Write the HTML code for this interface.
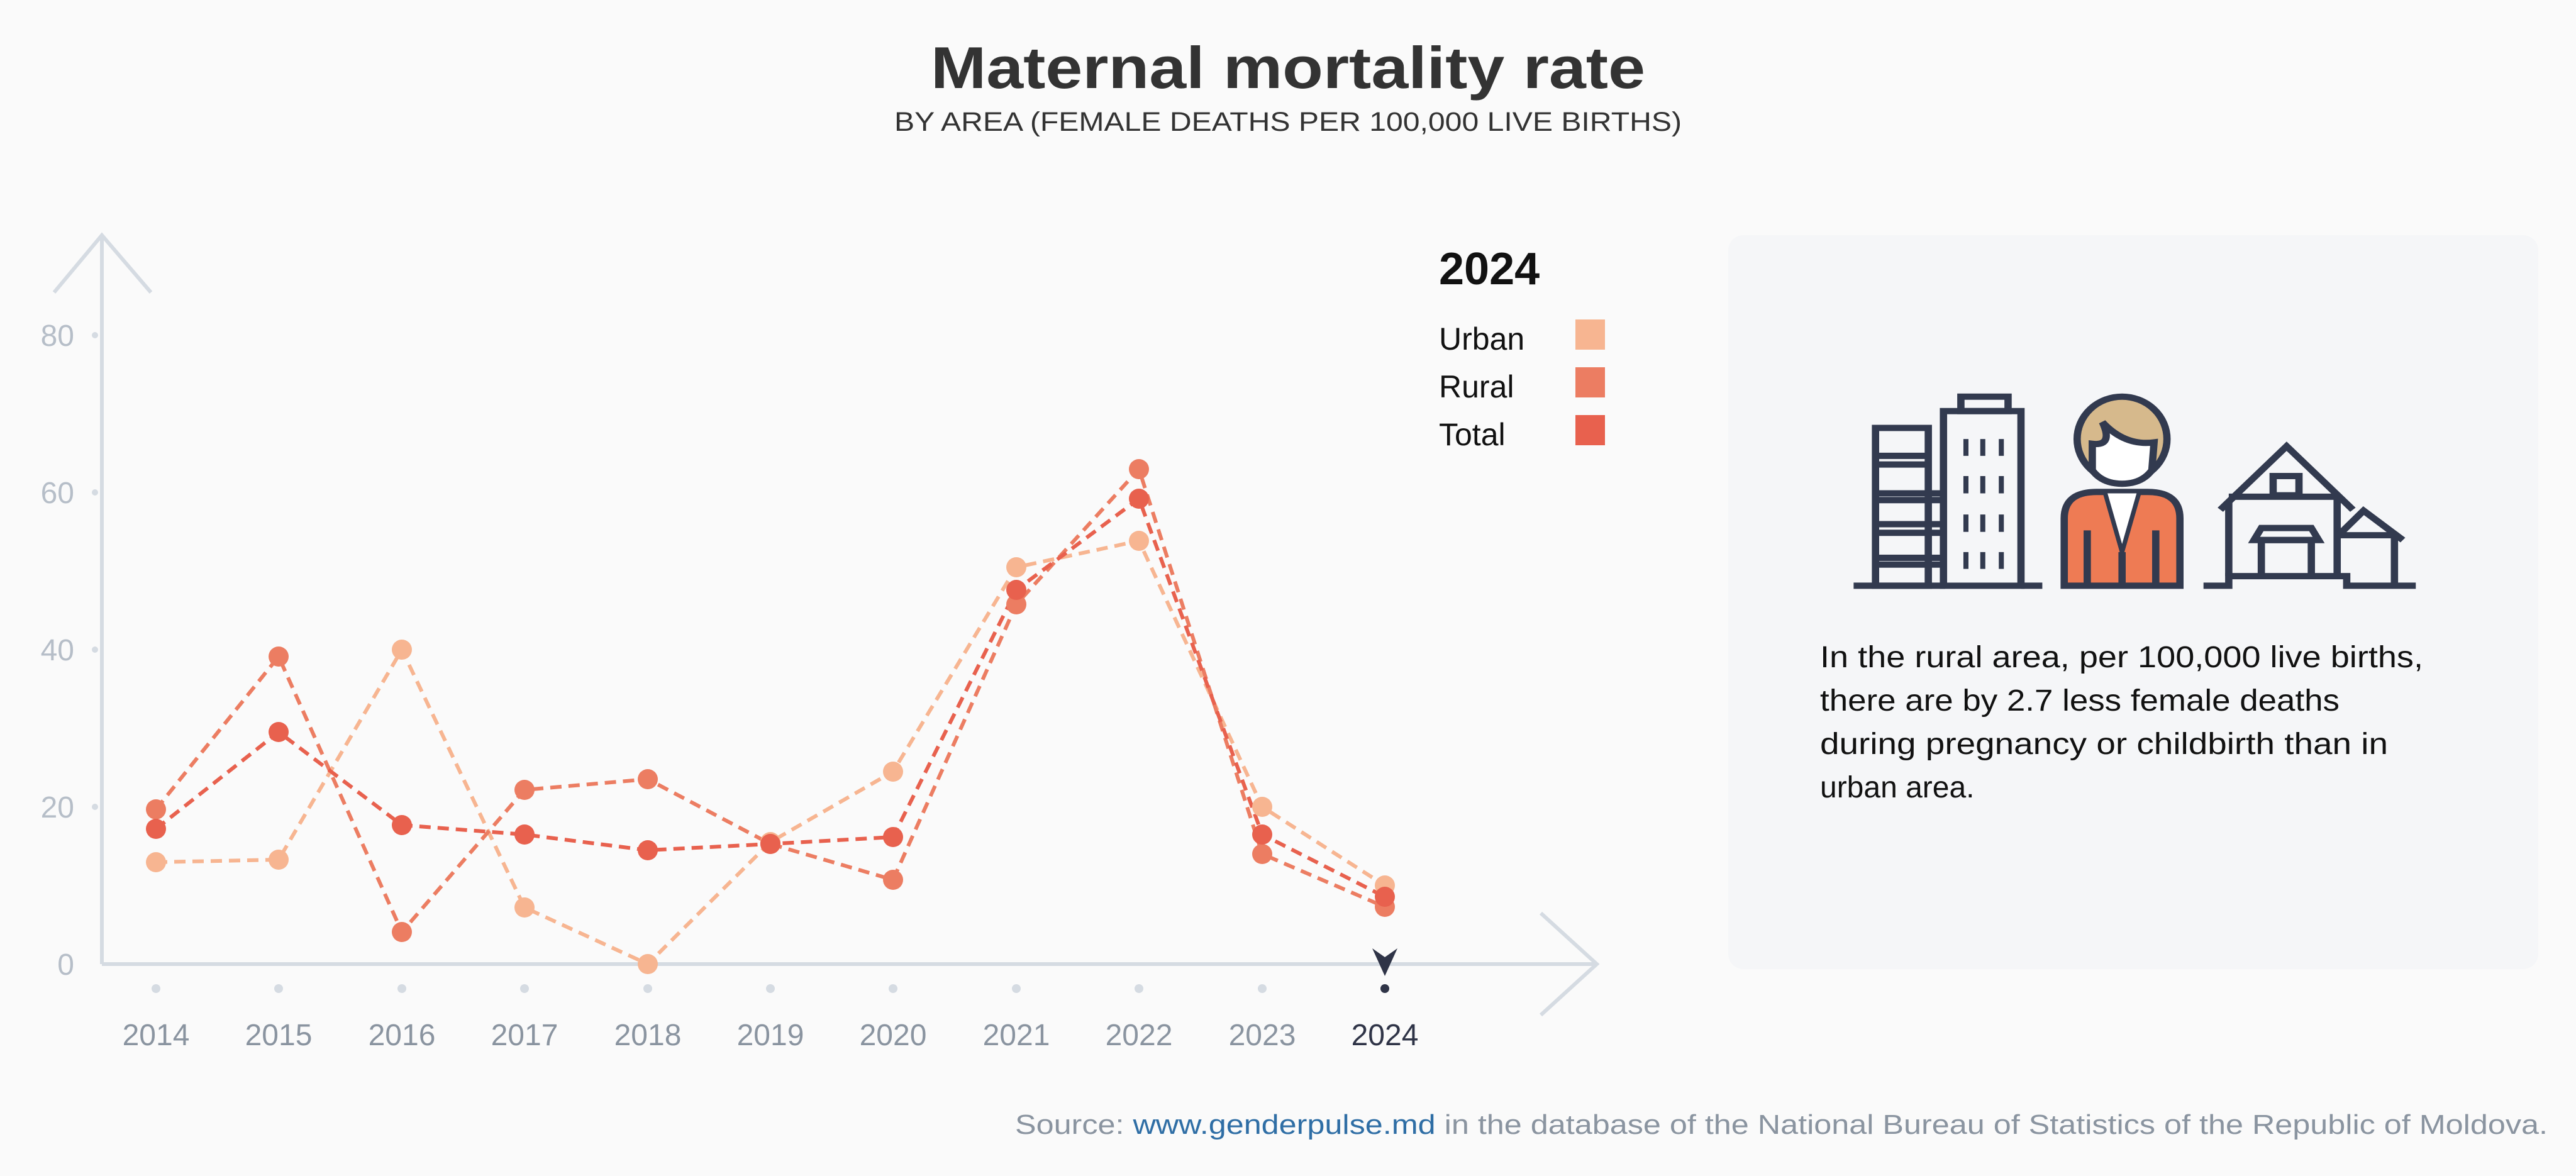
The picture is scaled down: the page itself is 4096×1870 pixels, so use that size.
<!DOCTYPE html>
<html><head><meta charset="utf-8"><style>
html,body{margin:0;padding:0;background:#fafafa;}
svg{display:block;font-family:"Liberation Sans",sans-serif;}
</style></head><body>
<svg width="4096" height="1870" viewBox="0 0 4096 1870" xmlns="http://www.w3.org/2000/svg">
<rect width="4096" height="1870" fill="#fafafa"/>
<text x="2048" y="140" text-anchor="middle" font-size="94" font-weight="bold" fill="#333" textLength="1136" lengthAdjust="spacingAndGlyphs">Maternal mortality rate</text>
<text x="2048" y="208" text-anchor="middle" font-size="43" fill="#333" textLength="1252" lengthAdjust="spacingAndGlyphs">BY AREA (FEMALE DEATHS PER 100,000 LIVE BIRTHS)</text>

<!-- axes -->
<g stroke="#d5dbe2" stroke-width="6" fill="none">
<line x1="162" y1="374" x2="162" y2="1533"/>
<polyline points="86,465 162,374 240,465"/>
<line x1="162" y1="1533" x2="2539" y2="1533"/>
<polyline points="2450,1452 2539,1533 2450,1614"/>
</g>
<g font-size="48" fill="#b6bec8" text-anchor="end">
<text x="118" y="550">80</text><text x="118" y="800">60</text><text x="118" y="1050">40</text><text x="118" y="1300">20</text><text x="118" y="1550">0</text>
</g>
<g fill="#d5dbe2"><circle cx="151" cy="533" r="5"/><circle cx="151" cy="783" r="5"/><circle cx="151" cy="1033" r="5"/><circle cx="151" cy="1283" r="5"/></g>
<g fill="#d5dbe2">
<circle cx="248" cy="1572" r="7"/><circle cx="443" cy="1572" r="7"/><circle cx="639" cy="1572" r="7"/><circle cx="834" cy="1572" r="7"/><circle cx="1030" cy="1572" r="7"/><circle cx="1225" cy="1572" r="7"/><circle cx="1420" cy="1572" r="7"/><circle cx="1616" cy="1572" r="7"/><circle cx="1811" cy="1572" r="7"/><circle cx="2007" cy="1572" r="7"/>
</g>
<circle cx="2202" cy="1572" r="7" fill="#2f3447"/>
<path d="M2182,1508 L2202,1552 L2222,1508 L2202,1522 Z" fill="#2f3447"/>
<g font-size="48" fill="#8a94a0" text-anchor="middle">
<text x="248" y="1662">2014</text><text x="443" y="1662">2015</text><text x="639" y="1662">2016</text><text x="834" y="1662">2017</text><text x="1030" y="1662">2018</text><text x="1225" y="1662">2019</text><text x="1420" y="1662">2020</text><text x="1616" y="1662">2021</text><text x="1811" y="1662">2022</text><text x="2007" y="1662">2023</text>
<text x="2202" y="1662" fill="#2f3447">2024</text>
</g>

<!-- series: y = 1533 - 12.5*v -->
<g fill="none" stroke-width="6" stroke-dasharray="18,11">
<polyline stroke="#f7b591" points="248,1371 443,1367 639,1033 834,1443 1030,1533 1225,1339 1420,1227 1616,902 1811,860 2007,1283 2202,1408"/>
<polyline stroke="#ec7d62" points="248,1287 443,1044 639,1482 834,1256 1030,1239 1225,1342 1420,1399 1616,961 1811,746 2007,1358 2202,1442"/>
<polyline stroke="#e8614e" points="248,1318 443,1164 639,1312 834,1327 1030,1352 1225,1342 1420,1331 1616,938 1811,793 2007,1327 2202,1426"/>
</g>
<g fill="#f7b591"><circle cx="248" cy="1371" r="16"/><circle cx="443" cy="1367" r="16"/><circle cx="639" cy="1033" r="16"/><circle cx="834" cy="1443" r="16"/><circle cx="1030" cy="1533" r="16"/><circle cx="1225" cy="1339" r="16"/><circle cx="1420" cy="1227" r="16"/><circle cx="1616" cy="902" r="16"/><circle cx="1811" cy="860" r="16"/><circle cx="2007" cy="1283" r="16"/><circle cx="2202" cy="1408" r="16"/></g>
<g fill="#ec7d62"><circle cx="248" cy="1287" r="16"/><circle cx="443" cy="1044" r="16"/><circle cx="639" cy="1482" r="16"/><circle cx="834" cy="1256" r="16"/><circle cx="1030" cy="1239" r="16"/><circle cx="1225" cy="1342" r="16"/><circle cx="1420" cy="1399" r="16"/><circle cx="1616" cy="961" r="16"/><circle cx="1811" cy="746" r="16"/><circle cx="2007" cy="1358" r="16"/><circle cx="2202" cy="1442" r="16"/></g>
<g fill="#e8614e"><circle cx="248" cy="1318" r="16"/><circle cx="443" cy="1164" r="16"/><circle cx="639" cy="1312" r="16"/><circle cx="834" cy="1327" r="16"/><circle cx="1030" cy="1352" r="16"/><circle cx="1225" cy="1342" r="16"/><circle cx="1420" cy="1331" r="16"/><circle cx="1616" cy="938" r="16"/><circle cx="1811" cy="793" r="16"/><circle cx="2007" cy="1327" r="16"/><circle cx="2202" cy="1426" r="16"/></g>

<!-- legend -->
<text x="2288" y="452" font-size="72" font-weight="bold" fill="#111">2024</text>
<g font-size="50" fill="#111">
<text x="2288" y="556">Urban</text><text x="2288" y="632">Rural</text><text x="2288" y="708">Total</text>
</g>
<rect x="2505" y="508" width="47" height="48" fill="#f7b591"/>
<rect x="2505" y="584" width="47" height="48" fill="#ec7d62"/>
<rect x="2505" y="660" width="47" height="48" fill="#e8614e"/>

<!-- panel -->
<rect x="2748" y="374" width="1288" height="1167" rx="24" fill="#f5f6f8"/>
<g transform="translate(2700,350) scale(0.893,0.765)" stroke="#323a4f" stroke-width="13" fill="none">
<polyline points="277,760 440,760"/>
<rect x="316" y="432" width="94" height="328"/>
<line x1="316" y1="490" x2="410" y2="490"/><line x1="316" y1="508" x2="410" y2="508"/>
<line x1="316" y1="568" x2="437" y2="568"/><line x1="316" y1="582" x2="437" y2="582"/>
<line x1="316" y1="632" x2="437" y2="632"/><line x1="316" y1="650" x2="437" y2="650"/>
<line x1="316" y1="702" x2="437" y2="702"/><line x1="316" y1="716" x2="437" y2="716"/>
<rect x="437" y="397" width="138" height="363"/>
<rect x="468" y="367" width="84" height="30"/>
<line x1="575" y1="760" x2="613" y2="760"/>
<g stroke-width="9">
<line x1="477" y1="455" x2="477" y2="490"/><line x1="507" y1="455" x2="507" y2="490"/><line x1="540" y1="455" x2="540" y2="490"/>
<line x1="477" y1="532" x2="477" y2="568"/><line x1="507" y1="532" x2="507" y2="568"/><line x1="540" y1="532" x2="540" y2="568"/>
<line x1="477" y1="612" x2="477" y2="648"/><line x1="507" y1="612" x2="507" y2="648"/><line x1="540" y1="612" x2="540" y2="648"/>
<line x1="477" y1="690" x2="477" y2="725"/><line x1="507" y1="690" x2="507" y2="725"/><line x1="540" y1="690" x2="540" y2="725"/>
</g>
<ellipse cx="755" cy="455" rx="80" ry="88" fill="#d6b98c"/>
<path d="M702,465 Q740,470 720,420 Q760,470 812,462 L808,520 Q790,548 755,548 Q720,548 702,520 Z" fill="#fff"/>
<path d="M652,760 L652,620 Q652,565 710,565 L800,565 Q858,565 858,620 L858,760 Z" fill="#ee7b54"/>
<path d="M725,568 L755,690 L785,568" fill="#fff" stroke-width="8"/>
<line x1="755" y1="690" x2="755" y2="760"/><line x1="693" y1="645" x2="693" y2="760"/><line x1="815" y1="645" x2="815" y2="760"/>
<polyline points="930,602 1048,470 1166,602"/>
<polyline points="945,585 945,740"/><line x1="945" y1="575" x2="1138" y2="575"/>
<line x1="1138" y1="575" x2="1138" y2="740"/>
<rect x="1024" y="532" width="46" height="40"/>
<path d="M990,665 L1003,640 L1092,640 L1105,665 Z"/>
<polyline points="1003,740 1003,665 1092,665 1092,740"/>
<polyline points="1143,652 1185,604 1255,665"/>
<polyline points="1143,655 1240,655 1240,760"/>
<polyline points="900,760 945,760 945,740 1155,740 1155,760 1278,760"/>
</g>
<g font-size="48" fill="#111">
<text x="2894" y="1061" textLength="959" lengthAdjust="spacingAndGlyphs">In the rural area, per 100,000 live births,</text>
<text x="2894" y="1130" textLength="826" lengthAdjust="spacingAndGlyphs">there are by 2.7 less female deaths</text>
<text x="2894" y="1199" textLength="903" lengthAdjust="spacingAndGlyphs">during pregnancy or childbirth than in</text>
<text x="2894" y="1268">urban area.</text>
</g>

<text x="4051" y="1803" text-anchor="end" font-size="44" fill="#8a94a0" textLength="2437" lengthAdjust="spacingAndGlyphs">Source: <tspan fill="#2f6ea5">www.genderpulse.md</tspan> in the database of the National Bureau of Statistics of the Republic of Moldova.</text>
</svg>
</body></html>
